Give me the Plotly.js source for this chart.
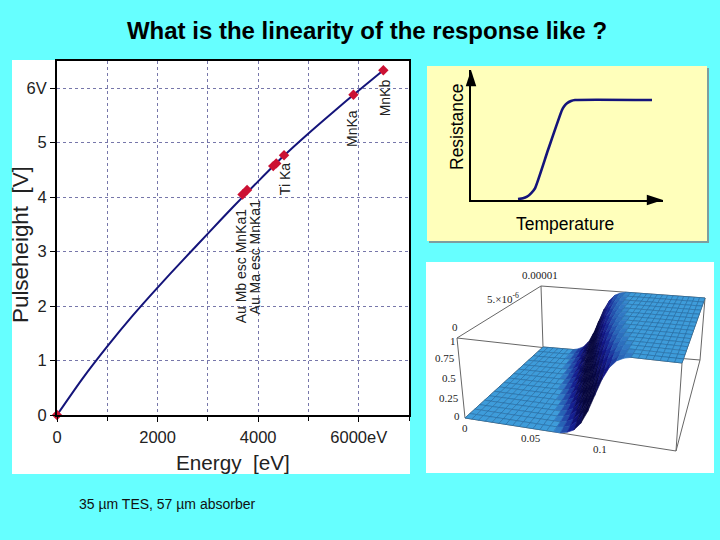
<!DOCTYPE html>
<html><head><meta charset="utf-8">
<script src="https://cdn.plot.ly/plotly-3.0.1.min.js"></script>
<style>html,body{margin:0;padding:0;background:#66ffff}#c{width:720px;height:540px}</style>
</head><body><div id="c"></div>
<script>
const curveEnergy=[0,500,1000,1500,2000,2500,3000,3500,4000,4500,5000,5500,6000,6490];
const curveVolts=[0,0.66,1.26,1.82,2.34,2.84,3.33,3.82,4.29,4.75,5.17,5.57,5.96,6.33];
const lineEnergy=[0,3690,3780,4300,4360,4515,5895,6490];
const lineVolts=[0,4.05,4.13,4.57,4.62,4.77,5.88,6.33];
const xTickVals=[0,2000,4000,6000];
const xTickText=['0','2000','4000','6000eV'];
const yTickVals=[0,1,2,3,4,5,6];
const yTickText=['0','1','2','3','4','5','6V'];
const lineNames=['Au Mb esc MnKa1','Au Ma esc MnKa1','Ti Ka','MnKa','MnKb'];
const lineNameX=[3660,3936,4533,5865,6540];
const lineNameY=[2.73,2.91,4.33,5.27,5.83];
const temperature=[47,52,56,60,64,77,91,93,96,100,104,181];
const resistance=[1,1.7,3.3,6.7,11.7,50,90,93.5,96.7,99,100,100];
const arrowTipT=[0,192];
const arrowTipR=[130,0];
const surfX=[0,.005,.01,.015,.02,.025,.03,.035,.04,.045,.05,.055,.06,.065,.07,.075,.08,.085,.09,.095,.1,.105,.11,.115,.12,.125,.13,.135,.14,.145,.15,.155];
const surfY=[0,.0625e-5,.125e-5,.1875e-5,.25e-5,.3125e-5,.375e-5,.4375e-5,.5e-5,.5625e-5,.625e-5,.6875e-5,.75e-5,.8125e-5,.875e-5,.9375e-5,1e-5];
const surfZ=[
[0,0,0,0,0,0,0,0,0,0,0,0,0,0,0,.02,.06,.15,.3,.5,.7,.85,.94,.98,1,1,1,1,1,1,1,1],
[0,0,0,0,0,0,0,0,0,0,0,0,0,0,.01,.04,.105,.225,.4,.6,.775,.895,.96,.99,1,1,1,1,1,1,1,1],
[0,0,0,0,0,0,0,0,0,0,0,0,0,0,.02,.06,.15,.3,.5,.7,.85,.94,.98,1,1,1,1,1,1,1,1,1],
[0,0,0,0,0,0,0,0,0,0,0,0,0,.01,.04,.105,.225,.4,.6,.775,.895,.96,.99,1,1,1,1,1,1,1,1,1],
[0,0,0,0,0,0,0,0,0,0,0,0,0,.02,.06,.15,.3,.5,.7,.85,.94,.98,1,1,1,1,1,1,1,1,1,1],
[0,0,0,0,0,0,0,0,0,0,0,0,.01,.04,.105,.225,.4,.6,.775,.895,.96,.99,1,1,1,1,1,1,1,1,1,1],
[0,0,0,0,0,0,0,0,0,0,0,0,.02,.06,.15,.3,.5,.7,.85,.94,.98,1,1,1,1,1,1,1,1,1,1,1],
[0,0,0,0,0,0,0,0,0,0,0,.01,.04,.105,.225,.4,.6,.775,.895,.96,.99,1,1,1,1,1,1,1,1,1,1,1],
[0,0,0,0,0,0,0,0,0,0,0,.02,.06,.15,.3,.5,.7,.85,.94,.98,1,1,1,1,1,1,1,1,1,1,1,1],
[0,0,0,0,0,0,0,0,0,0,.01,.04,.105,.225,.4,.6,.775,.895,.96,.99,1,1,1,1,1,1,1,1,1,1,1,1],
[0,0,0,0,0,0,0,0,0,0,.02,.06,.15,.3,.5,.7,.85,.94,.98,1,1,1,1,1,1,1,1,1,1,1,1,1],
[0,0,0,0,0,0,0,0,0,.01,.04,.105,.225,.4,.6,.775,.895,.96,.99,1,1,1,1,1,1,1,1,1,1,1,1,1],
[0,0,0,0,0,0,0,0,0,.02,.06,.15,.3,.5,.7,.85,.94,.98,1,1,1,1,1,1,1,1,1,1,1,1,1,1],
[0,0,0,0,0,0,0,0,.01,.04,.105,.225,.4,.6,.775,.895,.96,.99,1,1,1,1,1,1,1,1,1,1,1,1,1,1],
[0,0,0,0,0,0,0,0,.02,.06,.15,.3,.5,.7,.85,.94,.98,1,1,1,1,1,1,1,1,1,1,1,1,1,1,1],
[0,0,0,0,0,0,0,.01,.04,.105,.225,.4,.6,.775,.895,.96,.99,1,1,1,1,1,1,1,1,1,1,1,1,1,1,1],
[0,0,0,0,0,0,0,.02,.06,.15,.3,.5,.7,.85,.94,.98,1,1,1,1,1,1,1,1,1,1,1,1,1,1,1,1]];
const surfLabels=['0.00001','5.×10<sup>-6</sup>','0','1','0.75','0.5','0.25','0','0','0.05','0.1'];
const surfLabelPx=[[540,275],[503,298],[455,327],[453,341],[445,358],[449,378],[449,398],[457,416],[465,428],[531,438],[600,449]];

const W=720,H=540, px=v=>v/W, py=v=>1-v/H;
const sans='"Liberation Sans",Arial,sans-serif';
const rect=(x0,y0,x1,y1,c)=>({type:'rect',xref:'paper',yref:'paper',x0:px(x0),x1:px(x1),y0:py(y0),y1:py(y1),fillcolor:c,line:{width:0},layer:'below'});
// oblique view of the surface box: where its eight corners land in the lower right panel
const view={A:[465,418],B:[676,451],C:[543,347],D:[700,360],E:[457,338],F:[682,363],G:[541,286],H:[705,298]};
const mix=(p,q,t)=>[p[0]+(q[0]-p[0])*t,p[1]+(q[1]-p[1])*t];
function project(xv,yv,zv){
  const u=xv/.155,v=yv/1e-5;
  const low=mix(mix(view.A,view.B,u),mix(view.C,view.D,u),v);
  const high=mix(mix(view.E,view.F,u),mix(view.G,view.H,u),v);
  return mix(low,high,zv);
}
const ramp=[[62,156,218],[40,100,182],[18,22,140],[6,6,60]];
function shadeColor(s,dark){
  const t=Math.min(.999,s)*(ramp.length-1),i=Math.floor(t),f=t-i;
  const c=ramp[i].map((a,k)=>Math.round((a+(ramp[i+1][k]-a)*f)*dark));
  return 'rgb('+c.join(',')+')';
}
const traces=[];
// box edges
[[0,0,0,.155,0,0],[0,0,1,.155,0,1],[0,1e-5,0,.155,1e-5,0],[0,1e-5,1,.155,1e-5,1],
 [0,0,0,0,1e-5,0],[0,0,1,0,1e-5,1],[.155,0,0,.155,1e-5,0],[.155,0,1,.155,1e-5,1],
 [0,0,0,0,0,1],[.155,0,0,.155,0,1],[0,1e-5,0,0,1e-5,1],[.155,1e-5,0,.155,1e-5,1]].forEach(e=>{
  const p=project(e[0],e[1],e[2]),q=project(e[3],e[4],e[5]);
  traces.push({type:'scatter',x:[p[0],q[0]],y:[p[1],q[1]],mode:'lines',line:{color:'#666',width:1},xaxis:'x3',yaxis:'y3',hoverinfo:'none'});
});
// surface cells, painted from the far edge to the near edge
for(let r=surfY.length-2;r>=0;r--){
  for(let i=0;i<surfX.length-1;i++){
    const cnr=[[i,r],[i+1,r],[i+1,r+1],[i,r+1],[i,r]].map(a=>project(surfX[a[0]],surfY[a[1]],surfZ[a[1]][a[0]]));
    const dz=((surfZ[r][i+1]-surfZ[r][i])+(surfZ[r+1][i+1]-surfZ[r+1][i]))/2;
    const zm=(surfZ[r][i]+surfZ[r+1][i+1])/2;
    const s=Math.min(1,1.25*Math.sqrt(dz/.2)*(1-.4*zm));
    const mesh=s<.12;
    traces.push({type:'scatter',x:cnr.map(c=>c[0]),y:cnr.map(c=>c[1]),mode:'lines',fill:'toself',fillcolor:shadeColor(s,1),
      line:{color:mesh?'#22689f':shadeColor(s,1),width:.6},xaxis:'x3',yaxis:'y3',hoverinfo:'none'});
  }
}
traces.push(
 {type:'scatter',x:curveEnergy,y:curveVolts,mode:'lines',line:{color:'#14147a',width:2,shape:'spline',smoothing:0.6},xaxis:'x',yaxis:'y',hoverinfo:'none'},
 {type:'scatter',x:lineEnergy,y:lineVolts,mode:'markers',marker:{symbol:'diamond',size:8,color:'#cc1133'},xaxis:'x',yaxis:'y',hoverinfo:'none',cliponaxis:false},
 {type:'scatter',x:temperature,y:resistance,mode:'lines',line:{color:'#14147a',width:2.6,shape:'spline',smoothing:0.5},xaxis:'x2',yaxis:'y2',hoverinfo:'none'},
 {type:'scatter',x:arrowTipT,y:arrowTipR,mode:'markers',marker:{symbol:'arrow',size:17,color:'#000',angle:[0,90],line:{width:0}},xaxis:'x2',yaxis:'y2',hoverinfo:'none',cliponaxis:false}
);
const annos=[];
const label=(t,x,y,size,color,extra)=>annos.push(Object.assign({text:t,x:px(x),y:py(y),xref:'paper',yref:'paper',xanchor:'center',yanchor:'middle',showarrow:false,font:{family:sans,size:size,color:color}},extra||{}));
lineNames.forEach((t,i)=>annos.push({text:t,x:lineNameX[i],y:lineNameY[i],xref:'x',yref:'y',xanchor:'center',yanchor:'middle',showarrow:false,textangle:-90,font:{family:sans,size:14,color:'#222'}}));
surfLabels.forEach((t,i)=>label(t,surfLabelPx[i][0],surfLabelPx[i][1],11,'#222',{font:{family:'"Liberation Serif",serif',size:11,color:'#222'}}));
label('35 µm TES, 57 µm absorber',167,504,14,'#111');
label('Energy  [eV]',233,462,20.7,'#222');
label('Pulseheight  [V]',20,245,22.4,'#222',{textangle:-90});
label('Temperature',565,224,17.5,'#000');
label('Resistance',457,127,17.5,'#000',{textangle:-90});
const hidden={showgrid:false,zeroline:false,showticklabels:false,ticks:'',showline:false};
const layout={
 width:W,height:H,margin:{l:0,r:0,t:0,b:0},paper_bgcolor:'#66ffff',plot_bgcolor:'rgba(0,0,0,0)',showlegend:false,
 title:{text:'<b>What is the linearity of the response like ?</b>',x:367/W,xanchor:'center',y:py(31),yanchor:'middle',font:{family:sans,size:24,color:'#000'}},
 shapes:[rect(12,60,410,474,'#ffffff'),rect(429,68,709,243,'#7d9f9f'),rect(427,66,707,241,'#ffffbb'),rect(426,262,714,473,'#ffffff')],
 annotations:annos,
 xaxis:{domain:[px(57),px(409)],range:[0,7000],tickmode:'array',tickvals:xTickVals,ticktext:xTickText,ticks:'outside',ticklen:5,tickcolor:'#000',tickwidth:1,
  ticklabelstandoff:1,minor:{dtick:1000,showgrid:true,gridcolor:'#7777aa',griddash:'dot',gridwidth:1,ticks:'outside',ticklen:4,tickcolor:'#000'},
  showgrid:true,gridcolor:'#7777aa',griddash:'dot',gridwidth:1,zeroline:false,showline:true,linecolor:'#000',linewidth:2,mirror:true,
  tickfont:{family:sans,size:16.5,color:'#222'}},
 yaxis:{domain:[py(415),py(61)],range:[0,6.5],tickmode:'array',tickvals:yTickVals,ticktext:yTickText,ticks:'outside',ticklen:5,tickcolor:'#000',tickwidth:1,
  showgrid:true,gridcolor:'#7777aa',griddash:'dot',gridwidth:1,zeroline:false,showline:true,linecolor:'#000',linewidth:2,mirror:true,
  tickfont:{family:sans,size:16.5,color:'#222'}},
 xaxis2:Object.assign({domain:[px(471),px(663)],range:[0,192],anchor:'y2'},hidden,{showline:true,linecolor:'#000',linewidth:2}),
 yaxis2:Object.assign({domain:[py(200),py(70)],range:[0,130],anchor:'x2'},hidden,{showline:true,linecolor:'#000',linewidth:2}),
 xaxis3:Object.assign({domain:[px(426),px(714)],range:[426,714],anchor:'y3'},hidden),
 yaxis3:Object.assign({domain:[py(473),py(262)],range:[473,262],anchor:'x3'},hidden)
};
Plotly.newPlot('c',traces,layout,{staticPlot:true,displayModeBar:false});
</script></body></html>
